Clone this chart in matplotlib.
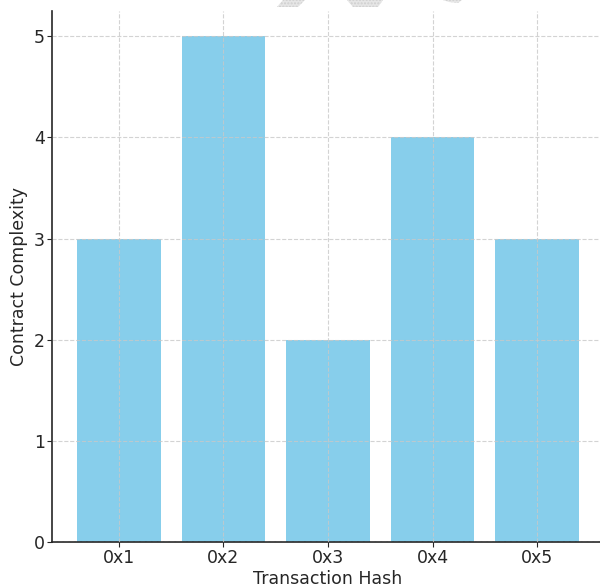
import numpy as np
import matplotlib.pyplot as plt
from matplotlib.patches import Polygon

hashes = ['0x1', '0x2', '0x3', '0x4', '0x5']
complexity = [3, 5, 2, 4, 3]

fig = plt.figure(figsize=(6.0, 5.85), dpi=100)
# axes runs a bit past the right edge, like the cropped original
ax = fig.add_axes([52/600, 43/585, 552/600, 531/585])

ax.bar(hashes, complexity, color='skyblue', width=0.8)
ax.set_axisbelow(False)
ax.grid(True, linestyle='--', color='#c8c8c8', linewidth=0.8, alpha=0.8)

ax.set_xlabel('Transaction Hash', fontsize=12.5, color='#262626', labelpad=2)
ax.set_ylabel('Contract Complexity', fontsize=12.5, color='#262626', labelpad=4)
ax.tick_params(labelsize=12.5, colors='#262626', length=3.5, pad=1.5)
ax.set_yticks(range(0, 6))
ax.spines['top'].set_visible(False)
ax.spines['right'].set_visible(False)
for s in ['left', 'bottom']:
    ax.spines[s].set_color('#262626')
    ax.spines[s].set_linewidth(1.2)

# faint hatched watermark pieces at the top edge
shapes = [
    [(277, 7), (298, 7), (305, 0), (283, 0)],
    [(347, 0), (383, 0), (378, 7), (353, 7)],
    [(443, 0), (462, 0), (458, 3), (449, 2)],
]
for pts in shapes:
    xy = [(x/600, 1 - y/585) for x, y in pts]
    fig.patches.append(Polygon(xy, closed=True, transform=fig.transFigure,
                               facecolor='#e6e6e6', edgecolor='#cfcfcf',
                               hatch='.....', linewidth=0))

plt.savefig('out.png', dpi=100)
